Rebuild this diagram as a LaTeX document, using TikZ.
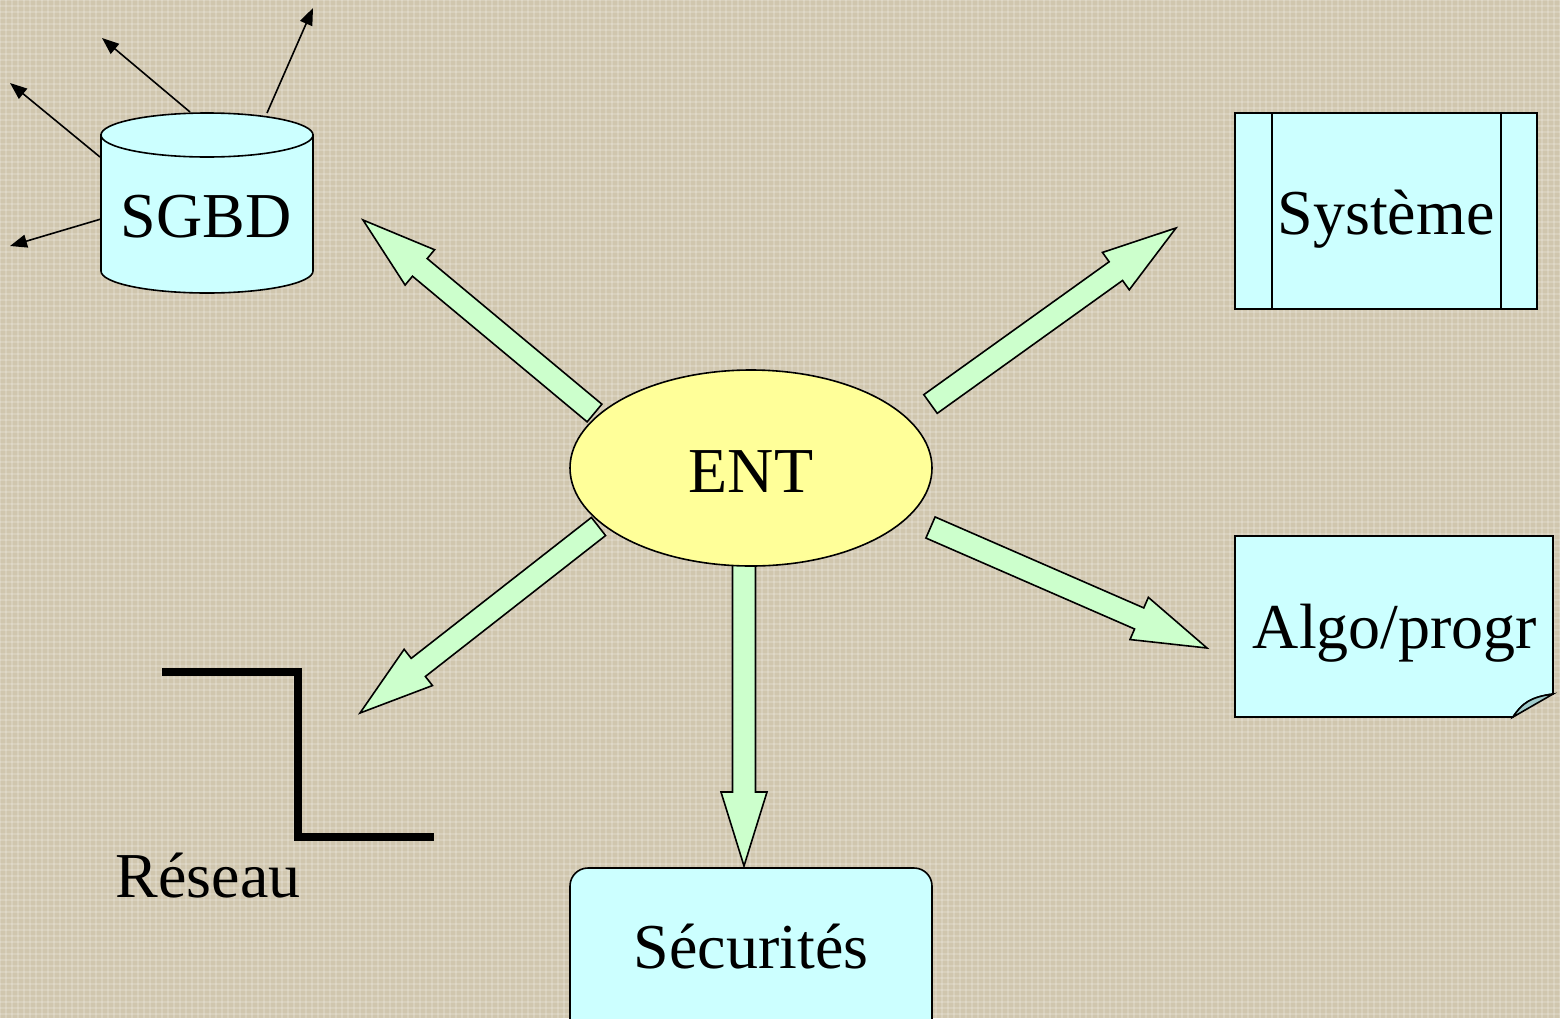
\documentclass[tikz,border=0pt]{standalone}
\usepackage{fontspec}
\setmainfont{Liberation Serif}
\usetikzlibrary{calc,arrows.meta}
\definecolor{bgc}{RGB}{208,198,174}
\definecolor{cyanfill}{RGB}{204,255,255}
\definecolor{yelfill}{RGB}{255,255,153}
\definecolor{grnfill}{RGB}{204,255,204}
\definecolor{foldfill}{RGB}{160,204,204}
\tikzset{
  lbl/.style={font=\fontsize{64}{70}\selectfont, inner sep=0pt, anchor=base},
  shapebox/.style={draw=black, line width=1.6pt, fill=cyanfill},
  fat/.style={draw=black, line width=1.6pt, fill=grnfill, line join=miter},
  thin/.style={draw=black, line width=1.6pt, -{Triangle[length=17pt,width=13pt]}},
}
\newcommand\fatarrow[2]{%
  \coordinate (hb) at ($(#2)!74pt!(#1)$);
  \draw[fat] ($(#1)!11.5pt!90:(#2)$) -- ($(hb)!11.5pt!90:(#2)$) -- ($(hb)!23pt!90:(#2)$)
    -- (#2) -- ($(hb)!23pt!-90:(#2)$) -- ($(hb)!11.5pt!-90:(#2)$) -- ($(#1)!11.5pt!-90:(#2)$) -- cycle;}
\begin{document}
\begin{tikzpicture}[x=1pt,y=-1pt]
\useasboundingbox (0,0) rectangle (1560,1018);
\fill[bgc] (0,0) rectangle (1560,1018);
\begin{scope}
\clip (0,0) rectangle (1560,1018);
\foreach \i in {0,6,...,1560} \draw[white,opacity=0.18,line width=1.4pt] (\i,0) -- (\i,1018);
\foreach \i in {0,6,...,1018} \draw[white,opacity=0.18,line width=1.4pt] (0,\i) -- (1560,\i);
\end{scope}

% coordinates
\coordinate (tUL) at (594.5,413);
\coordinate (pUL) at (363,220);
\coordinate (tUR) at (930.5,404);
\coordinate (pUR) at (1176,228);
\coordinate (tLL) at (598.5,526.5);
\coordinate (pLL) at (360,713);
\coordinate (tLR) at (930.5,527.5);
\coordinate (pLR) at (1207,648);
\coordinate (tD) at (744,560);
\coordinate (pD) at (744,866);

% big arrows
\fatarrow{tUL}{pUL}
\fatarrow{tUR}{pUR}
\fatarrow{tLL}{pLL}
\fatarrow{tLR}{pLR}
\fatarrow{tD}{pD}

% ENT
\draw[line width=1.6pt, fill=yelfill] (751,468) ellipse[x radius=181, y radius=98];
\node[lbl] (ent) at (751,492) {ENT};

% SGBD cylinder
\coordinate (c1) at (100,157);
\coordinate (c2) at (190,112);
\coordinate (c3) at (267,113);
\coordinate (c4) at (101,219);
\coordinate (a1) at (10,83);
\coordinate (a2) at (102,38);
\coordinate (a3) at (313,8);
\coordinate (a4) at (10,246);
\draw[thin] (c1) -- (a1);
\draw[thin] (c2) -- (a2);
\draw[thin] (c3) -- (a3);
\draw[thin] (c4) -- (a4);
\draw[shapebox] (101,135) -- (101,271) arc[start angle=180, end angle=0, x radius=106, y radius=22] -- (313,135) -- cycle;
\draw[shapebox] (207,135) ellipse[x radius=106, y radius=22];
\node[lbl] (sgbd) at (206,237) {SGBD};

% Systeme
\draw[shapebox] (1235,113) rectangle (1537,309);
\draw[line width=1.6pt] (1272,113) -- (1272,309);
\draw[line width=1.6pt] (1501,113) -- (1501,309);
\node[lbl] (sys) at (1386,234) {Système};

% Algo/progr
\draw[shapebox] (1235,536) -- (1553,536) -- (1553,694) .. controls (1531,697) and (1522,703) .. (1513,717) -- (1235,717) -- cycle;
\draw[line width=1.6pt, fill=foldfill] (1553,694) .. controls (1531,697) and (1522,703) .. (1513,717) -- cycle;
\node[lbl] (algo) at (1395,648) {Algo/progr};

% Securites
\draw[shapebox, rounded corners=18pt] (570,868) rectangle (932,1050);
\node[lbl] (secu) at (751,968) {Sécurités};

% Reseau
\draw[line width=8pt, line join=miter] (162,672) -- (298,672) -- (298,837) -- (434,837);
\node[lbl] (reseau) at (208,897) {Réseau};
\end{tikzpicture}
\end{document}
